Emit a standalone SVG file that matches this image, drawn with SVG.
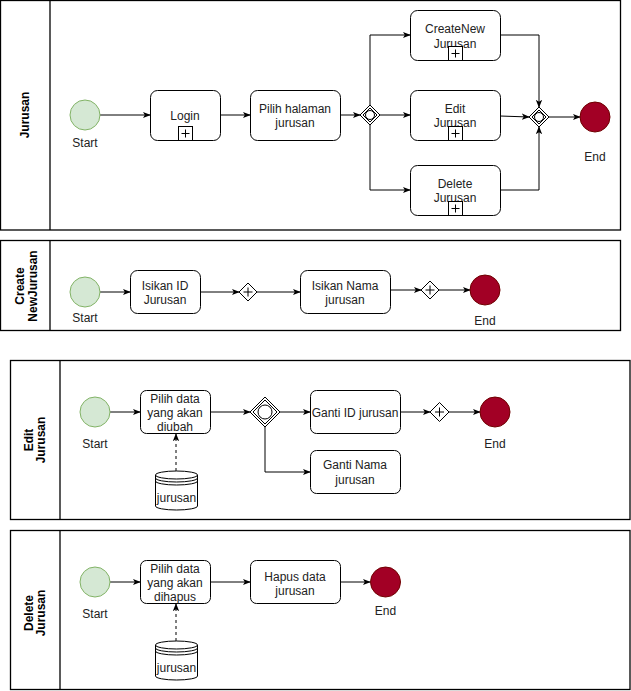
<svg xmlns="http://www.w3.org/2000/svg" width="631" height="691" viewBox="0 0 631 691">
  <style>
    text { font-family: "Liberation Sans", Arial, sans-serif; font-size: 12px; fill: #222; text-anchor: middle; }
    .lane-title { font-weight: bold; fill: #000; }
    .pool { fill: #fff; stroke: #000; stroke-width: 1.3; }
    .task { fill: #fff; stroke: #000; stroke-width: 1; }
    .start { fill: #d5e8d4; stroke: #82b366; stroke-width: 1; }
    .end { fill: #a20025; stroke: #6f0000; stroke-width: 1; }
    .gw { fill: #fff; stroke: #000; stroke-width: 1; }
    .mark { fill: none; stroke: #000; stroke-width: 1; }
    .flow { fill: none; stroke: #000; stroke-width: 1; marker-end: url(#arrow); }
    .assoc { fill: none; stroke: #000; stroke-width: 1; stroke-dasharray: 3 3; marker-end: url(#arrow); }
  </style>
  <defs>
    <marker id="arrow" viewBox="0 0 10 10" refX="9" refY="5" markerWidth="8" markerHeight="8" markerUnits="userSpaceOnUse" orient="auto">
      <path d="M0,1 L10,5 L0,9 L2.5,5 Z" fill="#000"/>
    </marker>
  </defs>

  <rect width="631" height="691" fill="#fff"/>

  <!-- Pools -->
  <g id="pool-jurusan">
    <rect class="pool" x="0.5" y="0.5" width="620" height="229.5"/>
    <line x1="50" y1="0.5" x2="50" y2="230" stroke="#000" stroke-width="1.3"/>
    <text class="lane-title" transform="translate(29,115) rotate(-90)">Jurusan</text>
  </g>
  <g id="pool-create">
    <rect class="pool" x="0.5" y="240.5" width="620" height="90"/>
    <line x1="50" y1="240.5" x2="50" y2="330.5" stroke="#000" stroke-width="1.3"/>
    <text class="lane-title" transform="translate(24,286) rotate(-90)">Create</text>
    <text class="lane-title" transform="translate(37,286) rotate(-90)">NewJurusan</text>
  </g>
  <g id="pool-edit">
    <rect class="pool" x="10.5" y="360.5" width="619.5" height="159"/>
    <line x1="60" y1="360.5" x2="60" y2="519.5" stroke="#000" stroke-width="1.3"/>
    <text class="lane-title" transform="translate(33,440) rotate(-90)">Edit</text>
    <text class="lane-title" transform="translate(45,440) rotate(-90)">Jurusan</text>
  </g>
  <g id="pool-delete">
    <rect class="pool" x="10.5" y="530.5" width="619.5" height="159"/>
    <line x1="60" y1="530.5" x2="60" y2="689.5" stroke="#000" stroke-width="1.3"/>
    <text class="lane-title" transform="translate(33,613) rotate(-90)">Delete</text>
    <text class="lane-title" transform="translate(45,613) rotate(-90)">Jurusan</text>
  </g>

  <!-- Connectors -->
  <g id="connectors">
    <!-- Jurusan -->
    <path class="flow" d="M100,115 L150,115"/>
    <path class="flow" d="M220,115 L250,115"/>
    <path class="flow" d="M340,115 L360,115"/>
    <path class="flow" d="M370,105 L370,35 L410,35"/>
    <path class="flow" d="M380,115 L410,115"/>
    <path class="flow" d="M370,125 L370,190 L410,190"/>
    <path class="flow" d="M500,35 L539,35 L539,107"/>
    <path class="flow" d="M500,116 L529,117"/>
    <path class="flow" d="M500,190 L539,190 L539,127"/>
    <path class="flow" d="M549,117 L580,117"/>
    <!-- Create New Jurusan -->
    <path class="flow" d="M100,292 L130,292"/>
    <path class="flow" d="M200,292 L239,292"/>
    <path class="flow" d="M257,292 L300,292"/>
    <path class="flow" d="M390,290 L421,290"/>
    <path class="flow" d="M439,290 L470,290"/>
    <!-- Edit Jurusan -->
    <path class="flow" d="M110,412 L140,412"/>
    <path class="flow" d="M210,412 L250,412"/>
    <path class="flow" d="M280,412 L310,412"/>
    <path class="flow" d="M265,427 L265,472 L310,472"/>
    <path class="flow" d="M400,412 L430,412"/>
    <path class="flow" d="M449,412 L480,412"/>
    <path class="assoc" d="M176,471 L176,434"/>
    <!-- Delete Jurusan -->
    <path class="flow" d="M110,582 L140,582"/>
    <path class="flow" d="M210,582 L250,582"/>
    <path class="flow" d="M340,582 L370,582"/>
    <path class="assoc" d="M176,641 L176,604"/>
  </g>

  <!-- Jurusan pool nodes -->
  <g id="j-start">
    <circle class="start" cx="85" cy="115" r="15"/>
    <text x="85" y="147">Start</text>
  </g>
  <g id="j-login">
    <rect class="task" x="150.5" y="90.5" width="70" height="50" rx="7"/>
    <text x="185" y="120">Login</text>
    <rect class="mark" x="178.5" y="126.5" width="14" height="14"/>
    <path class="mark" d="M185.5,129.5 V137.5 M181.5,133.5 H189.5"/>
  </g>
  <g id="j-pilih">
    <rect class="task" x="250.5" y="90.5" width="90" height="50" rx="7"/>
    <text x="295" y="112.5">Pilih halaman</text>
    <text x="295" y="127">jurusan</text>
  </g>
  <g id="j-gw-split">
    <path class="gw" d="M370,105 L380,115 L370,125 L360,115 Z"/>
    <path class="mark" d="M370,108 L377,115 L370,122 L363,115 Z"/>
    <circle class="mark" cx="370" cy="115" r="4.5"/>
  </g>
  <g id="j-create">
    <rect class="task" x="410.5" y="10.5" width="90" height="50" rx="7"/>
    <text x="455" y="32.5">CreateNew</text>
    <text x="455" y="47.5">Jurusan</text>
    <rect class="task" x="448.5" y="46.5" width="14" height="14"/>
    <path class="mark" d="M455.5,49.5 V57.5 M451.5,53.5 H459.5"/>
  </g>
  <g id="j-edit">
    <rect class="task" x="410.5" y="90.5" width="90" height="50" rx="7"/>
    <text x="455" y="113">Edit</text>
    <text x="455" y="127">Jurusan</text>
    <rect class="task" x="448.5" y="126.5" width="14" height="14"/>
    <path class="mark" d="M455.5,129.5 V137.5 M451.5,133.5 H459.5"/>
  </g>
  <g id="j-delete">
    <rect class="task" x="410.5" y="165.5" width="90" height="50" rx="7"/>
    <text x="455" y="188">Delete</text>
    <text x="455" y="201.5">Jurusan</text>
    <rect class="task" x="448.5" y="201.5" width="14" height="14"/>
    <path class="mark" d="M455.5,204.5 V212.5 M451.5,208.5 H459.5"/>
  </g>
  <g id="j-gw-join">
    <path class="gw" d="M539,107 L549,117 L539,127 L529,117 Z"/>
    <path class="mark" d="M539,110 L546,117 L539,124 L532,117 Z"/>
    <circle class="mark" cx="539" cy="117" r="4.5"/>
  </g>
  <g id="j-end">
    <circle class="end" cx="595" cy="117" r="15"/>
    <text x="595" y="161">End</text>
  </g>

  <!-- Create New Jurusan pool nodes -->
  <g id="c-start">
    <circle class="start" cx="85" cy="292" r="15"/>
    <text x="85" y="322">Start</text>
  </g>
  <g id="c-isi-id">
    <rect class="task" x="130.5" y="270.5" width="70" height="43" rx="7"/>
    <text x="165" y="290">Isikan ID</text>
    <text x="165" y="304">Jurusan</text>
  </g>
  <g id="c-gw1">
    <path class="gw" d="M248,283 L257,292 L248,301 L239,292 Z"/>
    <path class="mark" d="M248,287.5 V296.5 M243.5,292 H252.5"/>
  </g>
  <g id="c-isi-nama">
    <rect class="task" x="300.5" y="270.5" width="90" height="43" rx="7"/>
    <text x="345" y="290">Isikan Nama</text>
    <text x="345" y="304">jurusan</text>
  </g>
  <g id="c-gw2">
    <path class="gw" d="M430,281 L439,290 L430,299 L421,290 Z"/>
    <path class="mark" d="M430,285.5 V294.5 M425.5,290 H434.5"/>
  </g>
  <g id="c-end">
    <circle class="end" cx="485" cy="290" r="15"/>
    <text x="485" y="325">End</text>
  </g>

  <!-- Edit Jurusan pool nodes -->
  <g id="e-start">
    <circle class="start" cx="95" cy="412" r="15"/>
    <text x="95" y="448">Start</text>
  </g>
  <g id="e-pilih">
    <rect class="task" x="140.5" y="390.5" width="70" height="43" rx="6"/>
    <text x="175" y="403">Pilih data</text>
    <text x="175" y="417">yang akan</text>
    <text x="175" y="431">diubah</text>
  </g>
  <g id="e-store">
    <path class="task" d="M155.5,475 A21,4 0 0 1 197.5,475 V506 A21,4 0 0 1 155.5,506 Z"/>
    <path class="mark" d="M155.5,475 A21,4 0 0 0 197.5,475 M155.5,478 A21,4 0 0 0 197.5,478 M155.5,481 A21,4 0 0 0 197.5,481"/>
    <text x="176.5" y="502">jurusan</text>
  </g>
  <g id="e-gw">
    <path class="gw" d="M265,397 L280,412 L265,427 L250,412 Z"/>
    <path class="mark" d="M265,400 L277,412 L265,424 L253,412 Z"/>
    <circle class="mark" cx="265" cy="412" r="7"/>
  </g>
  <g id="e-ganti-id">
    <rect class="task" x="310.5" y="390.5" width="90" height="43" rx="6"/>
    <text x="355" y="417">Ganti ID jurusan</text>
  </g>
  <g id="e-ganti-nama">
    <rect class="task" x="310.5" y="450.5" width="90" height="43" rx="6"/>
    <text x="355" y="469">Ganti Nama</text>
    <text x="355" y="484">jurusan</text>
  </g>
  <g id="e-gw-plus">
    <path class="gw" d="M439.5,402.5 L449,412 L439.5,421.5 L430,412 Z"/>
    <path class="mark" d="M439.5,407.5 V416.5 M435,412 H444"/>
  </g>
  <g id="e-end">
    <circle class="end" cx="495" cy="412" r="15"/>
    <text x="495" y="448">End</text>
  </g>

  <!-- Delete Jurusan pool nodes -->
  <g id="d-start">
    <circle class="start" cx="95" cy="582" r="15"/>
    <text x="95" y="618">Start</text>
  </g>
  <g id="d-pilih">
    <rect class="task" x="140.5" y="560.5" width="70" height="43" rx="6"/>
    <text x="175" y="573">Pilih data</text>
    <text x="175" y="587">yang akan</text>
    <text x="175" y="601">dihapus</text>
  </g>
  <g id="d-store">
    <path class="task" d="M155.5,645 A21,4 0 0 1 197.5,645 V676 A21,4 0 0 1 155.5,676 Z"/>
    <path class="mark" d="M155.5,645 A21,4 0 0 0 197.5,645 M155.5,648 A21,4 0 0 0 197.5,648 M155.5,651 A21,4 0 0 0 197.5,651"/>
    <text x="176.5" y="672">jurusan</text>
  </g>
  <g id="d-hapus">
    <rect class="task" x="250.5" y="560.5" width="90" height="43" rx="6"/>
    <text x="295" y="581">Hapus data</text>
    <text x="295" y="594.5">jurusan</text>
  </g>
  <g id="d-end">
    <circle class="end" cx="385.5" cy="582" r="15"/>
    <text x="385.5" y="615">End</text>
  </g>
</svg>
